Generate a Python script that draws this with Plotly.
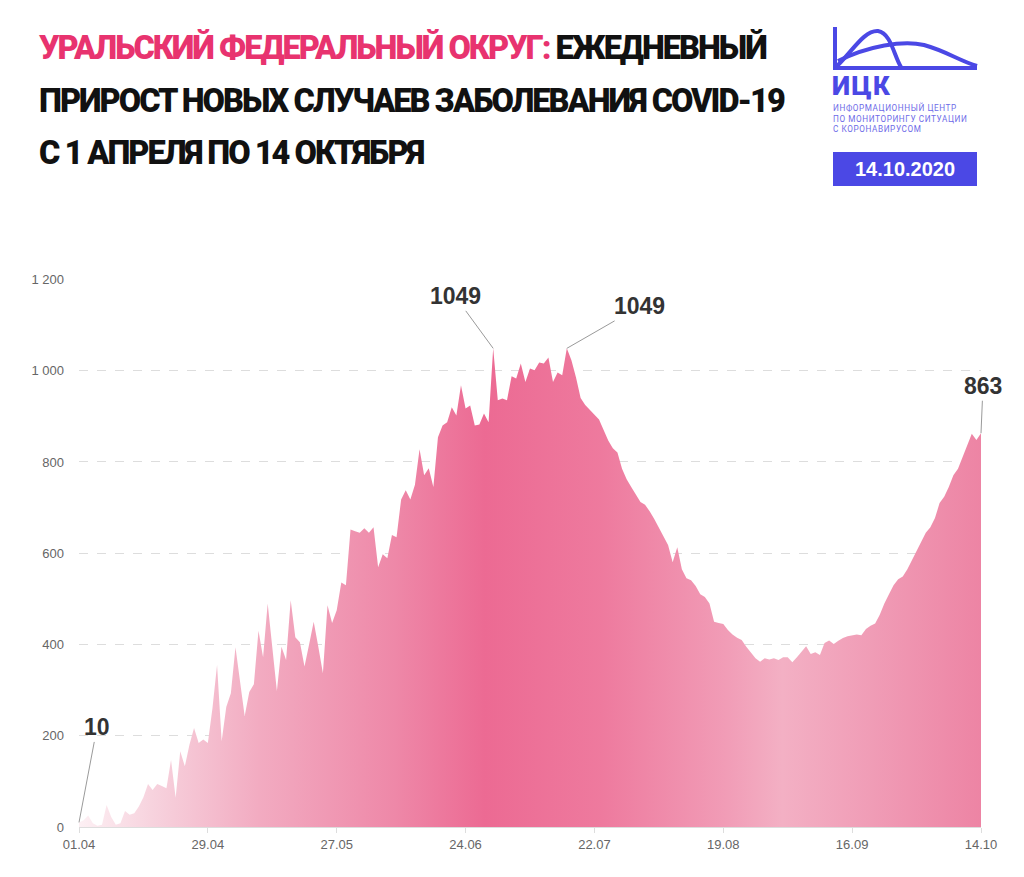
import pandas as pd
import plotly.graph_objects as go

# ---------------- data ----------------
start_date = "2020-04-01"
end_date = "2020-10-14"
daily_new_cases = [
    10, 15, 25, 8, 3, 5, 48, 22, 5, 8,
    35, 27, 30, 45, 65, 94, 81, 94, 90, 85,
    147, 64, 166, 133, 180, 217, 184, 192, 184, 260,
    355, 188, 263, 293, 394, 320, 243, 296, 313, 430,
    372, 490, 395, 298, 395, 366, 497, 416, 405, 352,
    400, 450, 395, 337, 486, 447, 475, 536, 530, 652,
    648, 645, 655, 645, 657, 569, 598, 589, 640, 635,
    718, 738, 718, 750, 828, 771, 786, 745, 854, 880,
    887, 920, 902, 968, 917, 924, 880, 882, 906, 887,
    1049, 935, 939, 935, 988, 983, 1016, 975, 1005, 1001,
    1018, 1016, 1029, 975, 996, 990, 1049, 1023, 985, 940,
    925, 915, 905, 893, 870, 847, 830, 821, 785, 762,
    745, 727, 712, 706, 692, 675, 656, 640, 618, 580,
    613, 565, 545, 541, 528, 510, 504, 490, 450, 447,
    445, 432, 422, 415, 410, 395, 383, 370, 362, 370,
    367, 370, 366, 372, 372, 361, 372, 385, 396, 379,
    383, 377, 403, 409, 401, 408, 414, 418, 420, 422,
    420, 434, 441, 446, 465, 490, 510, 530, 543, 549,
    565, 585, 605, 625, 645, 657, 677, 710, 724, 745,
    771, 785, 812, 835, 862, 848, 863,
]
x_tick_dates = ["2020-04-01", "2020-04-29", "2020-05-27", "2020-06-24",
                "2020-07-22", "2020-08-19", "2020-09-16", "2020-10-14"]
x_tick_labels = ["01.04", "29.04", "27.05", "24.06", "22.07", "19.08", "16.09", "14.10"]
y_tick_values = [0, 200, 400, 600, 800, 1000, 1200]
y_tick_labels = ["0", "200", "400", "600", "800", "1 000", "1 200"]
# labelled points: (date, value)
labelled_points = [("2020-04-01", 10), ("2020-06-30", 1049),
                   ("2020-07-16", 1049), ("2020-10-14", 863)]

dates = pd.date_range(start_date, end_date, freq="D")

# ---------------- layout geometry ----------------
# the page body has an 8px margin, so the figure is shifted by 8px
OFF = 8
W, H = 1024 - OFF, 877 - OFF
ML, MR, MT, MB = 79 - OFF, 43, 279 - OFF, 50
PW, PH = W - ML - MR, H - MT - MB


def px(xp):
    """reference-screen x pixel -> paper coordinate"""
    return (xp - OFF - ML) / PW


def py(yp):
    """reference-screen y pixel -> paper coordinate"""
    return (H - MB - (yp - OFF)) / PH


PINK = "#E8336F"
BLUE = "#4B48E5"

fig = go.Figure()
fig.add_trace(go.Scatter(
    x=dates, y=daily_new_cases, mode="lines",
    line=dict(width=0, color="#EC6A93"),
    fill="tozeroy",
    fillgradient=dict(
        type="horizontal",
        colorscale=[
            [0.00, "#FDF0F4"],
            [0.08, "#F7D3DE"],
            [0.20, "#F2ABC1"],
            [0.35, "#EE88A8"],
            [0.45, "#EC6A93"],
            [0.58, "#EE7A9E"],
            [0.72, "#F19DB7"],
            [0.78, "#F3B0C4"],
            [0.88, "#F09CB6"],
            [1.00, "#ED84A4"],
        ],
    ),
    hoverinfo="x+y",
    showlegend=False,
))

# value labels
offsets = [(18, -95), (-38, -52), (73, -42), (2, -47)]
for (d, v), (ax, ay) in zip(labelled_points, offsets):
    fig.add_annotation(
        x=d, y=v, xref="x", yref="y", text=f"<b>{v}</b>",
        showarrow=True, arrowhead=0, arrowwidth=1, arrowcolor="#9a9a9a",
        ax=ax, ay=ay, standoff=0,
        font=dict(family="Liberation Sans, Arial, sans-serif", size=23, color="#333333"),
    )

# title
LS = "letter-spacing:-2px"
title_lines = [
    (48, f"<span style='color:{PINK};{LS}'>УРАЛЬСКИЙ ФЕДЕРАЛЬНЫЙ ОКРУГ:</span>"
         f"<span style='{LS}'> ЕЖЕДНЕВНЫЙ</span>"),
    (101, f"<span style='{LS}'>ПРИРОСТ НОВЫХ СЛУЧАЕВ ЗАБОЛЕВАНИЯ COVID-19</span>"),
    (153, f"<span style='{LS}'>С 1 АПРЕЛЯ ПО 14 ОКТЯБРЯ</span>"),
]
for yp, t in title_lines:
    fig.add_annotation(
        x=px(37), y=py(yp), xref="paper", yref="paper", text=t,
        showarrow=False, xanchor="left", yanchor="middle",
        font=dict(family="Roboto, sans-serif", size=32.5, color="#111111", weight=900),
    )

# logo
logo_paths = [
    f"M{px(835)},{py(27)} L{px(835)},{py(68)} L{px(977)},{py(68)}",
    f"M{px(835)},{py(68)} C{px(852)},{py(52)} {px(864)},{py(30)} {px(878)},{py(31)} "
    f"C{px(891)},{py(33)} {px(894)},{py(56)} {px(901)},{py(67)}",
    f"M{px(838)},{py(61)} C{px(868)},{py(46)} {px(903)},{py(40)} {px(924)},{py(45)} "
    f"C{px(946)},{py(51)} {px(960)},{py(61)} {px(977)},{py(66)}",
]
for p in logo_paths:
    fig.add_shape(type="path", path=p, xref="paper", yref="paper",
                  line=dict(color=BLUE, width=4))

fig.add_annotation(x=px(831), y=py(86.5), xref="paper", yref="paper",
                   text="<span style='letter-spacing:1.5px'>ИЦК</span>",
                   showarrow=False, xanchor="left", yanchor="middle", borderpad=0,
                   font=dict(family="Roboto, sans-serif", size=26, color=BLUE, weight=900))
small_lines = ["ИНФОРМАЦИОННЫЙ ЦЕНТР", "ПО МОНИТОРИНГУ СИТУАЦИИ", "С КОРОНАВИРУСОМ"]
fig.add_annotation(x=px(832), y=py(118), xref="paper", yref="paper",
                   text="<br>".join(f"<span style='letter-spacing:0.6px'>{s}</span>"
                                    for s in small_lines),
                   showarrow=False, xanchor="left", yanchor="middle", align="left",
                   borderpad=0,
                   font=dict(family="Roboto, sans-serif", size=8.2, color="#6E6BE8"))

fig.add_shape(type="rect", xref="paper", yref="paper",
              x0=px(833), x1=px(977), y0=py(152), y1=py(186),
              fillcolor=BLUE, line=dict(width=0))
fig.add_annotation(x=px(905), y=py(169), xref="paper", yref="paper",
                   text="<b>14.10.2020</b>", showarrow=False,
                   xanchor="center", yanchor="middle",
                   font=dict(family="Liberation Sans, Arial, sans-serif", size=20, color="white"))

fig.update_layout(
    width=W, height=H,
    margin=dict(l=ML, r=MR, t=MT, b=MB, pad=0, autoexpand=False),
    paper_bgcolor="white", plot_bgcolor="white",
    font=dict(family="Liberation Sans, Arial, sans-serif", size=13, color="#666666"),
    xaxis=dict(
        range=[dates[0], dates[-1]],
        tickvals=x_tick_dates, ticktext=x_tick_labels,
        showgrid=False, zeroline=False, automargin=False,
        showline=True, linecolor="#dddddd", linewidth=1,
        ticks="outside", ticklen=5, tickcolor="#dddddd",
        tickfont=dict(size=13, color="#666666"),
    ),
    yaxis=dict(
        range=[0, 1201],
        tickvals=y_tick_values, ticktext=y_tick_labels,
        showgrid=True, gridcolor="#dddddd", griddash="dash", gridwidth=1,
        zeroline=False, showline=False, ticks="", automargin=False,
        ticklabelstandoff=14,
        tickfont=dict(size=13, color="#666666"),
    ),
    showlegend=False,
)

fig.write_html("out.html")
